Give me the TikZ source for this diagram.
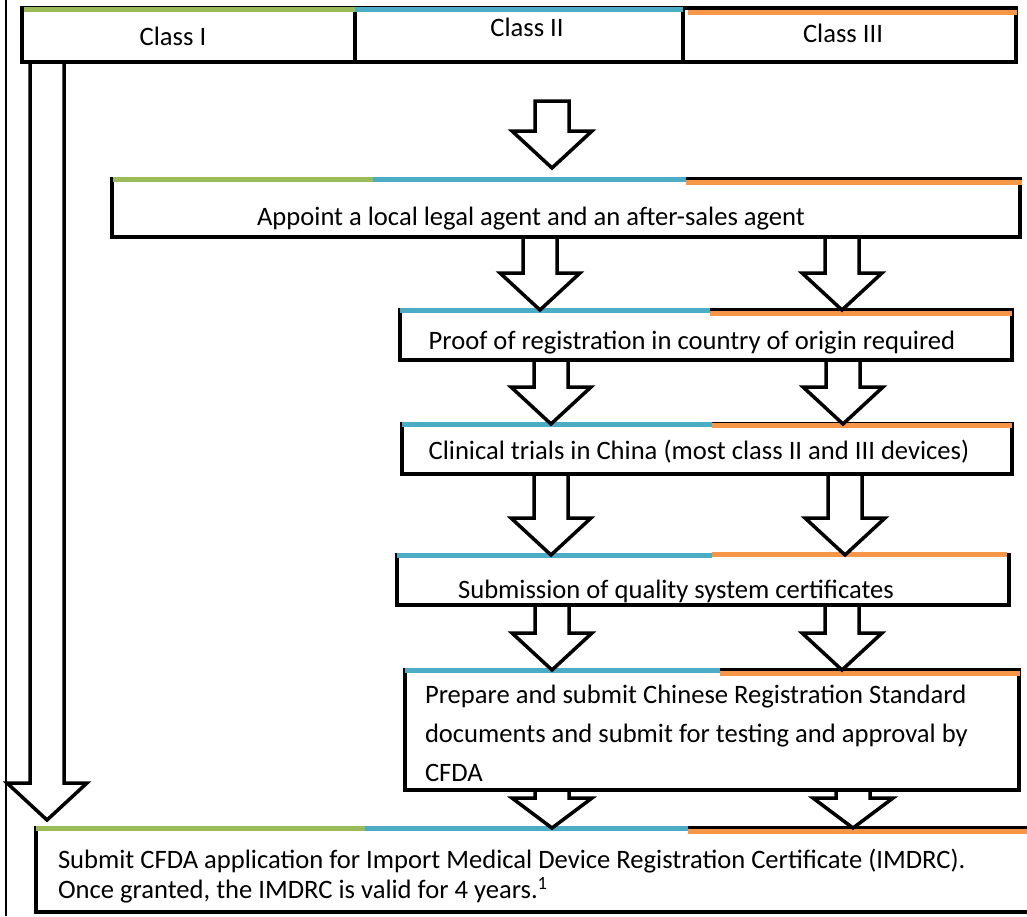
\documentclass[tikz,border=0pt]{standalone}
\usepackage{fontspec}
\setmainfont{Carlito}
\usetikzlibrary{calc}

\definecolor{classgreen}{HTML}{9BBB59}
\definecolor{classblue}{HTML}{4BACC6}
\definecolor{classorange}{HTML}{F79646}

\tikzset{
  box/.style={draw, line width=3.5pt, anchor=north west, inner sep=0pt, outer sep=0pt,
    font=\fontsize{26.6}{39}\selectfont},
  oneline/.style={text depth=0pt, text height=#1},
  hollow/.style={draw, line width=3.5pt, fill=white, line join=miter},
  bar/.style={line width=5pt}
}

% hollow block arrow: #1 = head length, #2 = x, #3 = top of shaft, #4 = tip
\newcommand{\blockarrow}[4][37]{%
  \draw[hollow] let \p1 = #3, \p2 = #4 in
    (#2pt-17pt,\y1) -- (#2pt-17pt,\y2+#1pt) -- (#2pt-40pt,\y2+#1pt) -- (#2pt,\y2)
    -- (#2pt+40pt,\y2+#1pt) -- (#2pt+17pt,\y2+#1pt) -- (#2pt+17pt,\y1) -- cycle;}

\begin{document}
\begin{tikzpicture}[x=1pt, y=-1pt]
  \useasboundingbox (0,0) rectangle (1027,916);
  \draw[line width=1.5pt] (6,0) -- (6,916);

  % header
  \node[box, oneline=20pt, minimum width=333pt, minimum height=54pt] (classI) at (22,8) {Class I\hspace*{31pt}};
  \node[box, oneline=3pt, minimum width=328pt, minimum height=54pt] (classII) at (355,8) {\hspace*{16pt}Class II};
  \node[box, oneline=14pt, minimum width=333pt, minimum height=54pt] (classIII) at (683,8) {Class III\hspace*{13pt}};

  % steps
  \node[box, oneline=34pt, minimum width=908pt, minimum height=58pt] (appoint) at (112,179)
    {Appoint a local legal agent and an after-sales agent\hspace*{70pt}};
  \node[box, oneline=28pt, minimum width=612pt, minimum height=50pt] (proof) at (400,310)
    {Proof of registration in country of origin required\hspace*{28pt}};
  \node[box, oneline=20pt, minimum width=610pt, minimum height=50pt] (clinical) at (402,424)
    {Clinical trials in China (most class II and III devices)\hspace*{16pt}};
  \node[box, oneline=36pt, minimum width=612pt, minimum height=50pt] (submission) at (397,555)
    {Submission of quality system certificates\hspace*{54pt}};
  \node[box, minimum width=614pt, minimum height=120pt, text width=574pt, align=flush left] (prepare) at (405,670)
    {\rule{0pt}{25pt}Prepare and submit Chinese Registration Standard\\
     documents and submit for testing and approval by\\
     CFDA};
  \node[box, minimum width=1000pt, minimum height=84pt, text width=956pt, align=flush left,
    font=\fontsize{26.6}{30}\selectfont] (final) at (36,828)
    {\rule{0pt}{31pt}Submit CFDA application for Import Medical Device Registration Certificate (IMDRC).\\
     Once granted, the IMDRC is valid for 4 years.\textsuperscript{1}};

  % class colour bars
  \foreach \c/\xa/\xb/\y in {classgreen/24/355/9, classblue/355/683/9, classorange/688/1017/12,
      classgreen/113/373/179, classblue/373/686/179, classorange/686/1022/182,
      classblue/400/710/310, classorange/710/1012/313,
      classblue/402/712/424, classorange/712/1012/425,
      classblue/397/712/555, classorange/712/1007/554,
      classblue/405/720/670, classorange/720/1020/673,
      classgreen/36/365/828, classblue/365/688/828, classorange/688/1027/831}
    \draw[bar, \c] (\xa,\y) -- (\xb,\y);

  % arrows
  \coordinate (topstart) at (552,101);
  \coordinate (toptip) at (552,168);
  \coordinate (classItip) at (47,820);
  \blockarrow{47}{(classI.south)}{(classItip)}
  \blockarrow{552}{(topstart)}{(toptip)}
  \blockarrow{540}{(appoint.south)}{(proof.north)}
  \blockarrow{842}{(appoint.south)}{(proof.north)}
  \blockarrow{551}{(proof.south)}{(clinical.north)}
  \blockarrow{843}{(proof.south)}{(clinical.north)}
  \blockarrow{551}{(clinical.south)}{(submission.north)}
  \blockarrow{845}{(clinical.south)}{(submission.north)}
  \blockarrow{552}{(submission.south)}{(prepare.north)}
  \blockarrow{842}{(submission.south)}{(prepare.north)}
  \blockarrow[30]{552}{(prepare.south)}{(final.north)}
  \blockarrow[30]{853}{(prepare.south)}{(final.north)}
\end{tikzpicture}
\end{document}
